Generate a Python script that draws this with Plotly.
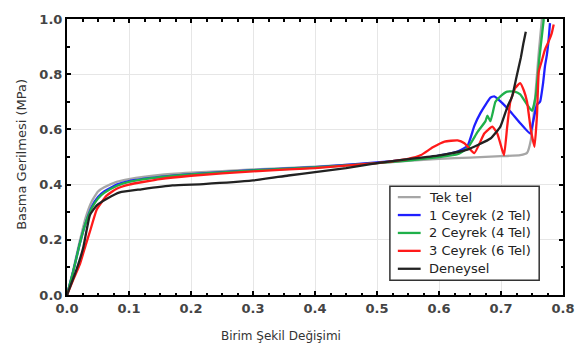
import plotly.graph_objects as go

# --- data ---
tek_x = [0, 0.01, 0.02, 0.03, 0.04, 0.05, 0.06, 0.08, 0.1, 0.15, 0.2, 0.3, 0.4, 0.5, 0.55, 0.6, 0.65, 0.7, 0.731, 0.742, 0.748, 0.753, 0.757, 0.761, 0.766]
tek_y = [0, 0.09, 0.19, 0.28, 0.34, 0.375, 0.39, 0.41, 0.42, 0.435, 0.443, 0.455, 0.465, 0.478, 0.486, 0.493, 0.498, 0.503, 0.507, 0.515, 0.56, 0.66, 0.77, 0.88, 1.0]

c1_x = [0, 0.01, 0.02, 0.03, 0.04, 0.05, 0.06, 0.08, 0.1, 0.15, 0.2, 0.3, 0.4, 0.5, 0.55, 0.6, 0.63, 0.646, 0.657, 0.667, 0.683, 0.689, 0.7, 0.715, 0.73, 0.747, 0.752, 0.758, 0.763, 0.768, 0.771, 0.774, 0.777, 0.779]
c1_y = [0, 0.085, 0.18, 0.26, 0.32, 0.355, 0.375, 0.4, 0.413, 0.428, 0.438, 0.452, 0.463, 0.48, 0.49, 0.505, 0.52, 0.54, 0.613, 0.66, 0.715, 0.72, 0.70, 0.665, 0.625, 0.585, 0.63, 0.69, 0.70, 0.77, 0.83, 0.87, 0.93, 0.985]

c2_x = [0, 0.01, 0.02, 0.03, 0.04, 0.05, 0.06, 0.08, 0.1, 0.15, 0.2, 0.3, 0.4, 0.5, 0.55, 0.6, 0.63, 0.646, 0.662, 0.675, 0.678, 0.683, 0.691, 0.699, 0.71, 0.722, 0.731, 0.742, 0.75, 0.756, 0.762, 0.766, 0.769]
c2_y = [0, 0.085, 0.18, 0.26, 0.315, 0.35, 0.37, 0.395, 0.41, 0.427, 0.437, 0.451, 0.462, 0.478, 0.487, 0.5, 0.51, 0.532, 0.59, 0.63, 0.65, 0.63, 0.70, 0.72, 0.737, 0.737, 0.727, 0.69, 0.667, 0.72, 0.86, 0.94, 1.0]

c3_x = [0, 0.01, 0.021, 0.03, 0.037, 0.048, 0.064, 0.08, 0.1, 0.15, 0.2, 0.3, 0.4, 0.5, 0.55, 0.571, 0.59, 0.609, 0.63, 0.641, 0.657, 0.673, 0.686, 0.694, 0.702, 0.705, 0.71, 0.715, 0.723, 0.731, 0.737, 0.742, 0.748, 0.754, 0.758, 0.761, 0.766, 0.771, 0.777, 0.782, 0.785]
c3_y = [0, 0.055, 0.113, 0.18, 0.23, 0.31, 0.36, 0.385, 0.4, 0.42, 0.432, 0.448, 0.46, 0.478, 0.493, 0.507, 0.535, 0.556, 0.56, 0.55, 0.514, 0.585, 0.61, 0.585, 0.525, 0.507, 0.61, 0.70, 0.75, 0.768, 0.74, 0.70, 0.6, 0.537, 0.65, 0.81, 0.85, 0.89, 0.92, 0.95, 0.98]

den_x = [0, 0.003, 0.015, 0.026, 0.037, 0.048, 0.065, 0.085, 0.12, 0.17, 0.22, 0.3, 0.357, 0.4, 0.45, 0.5, 0.55, 0.598, 0.646, 0.683, 0.699, 0.71, 0.718, 0.725, 0.732, 0.736, 0.74]
den_y = [0, 0.018, 0.09, 0.17, 0.29, 0.325, 0.35, 0.372, 0.383, 0.397, 0.402, 0.415, 0.433, 0.445, 0.46, 0.478, 0.492, 0.505, 0.527, 0.567, 0.61, 0.68, 0.72, 0.79, 0.86, 0.91, 0.954]

names = ["Tek tel", "1 Ceyrek (2 Tel)", "2 Ceyrek (4 Tel)", "3 Ceyrek (6 Tel)", "Deneysel"]
colors = ["#a6a6a6", "#1f1fff", "#1fb04a", "#ff1a1a", "#222222"]

x_ticks = [0.0, 0.1, 0.2, 0.3, 0.4, 0.5, 0.6, 0.7, 0.8]
y_ticks = [0.0, 0.2, 0.4, 0.6, 0.8, 1.0]

x_title = "Birim Şekil Değişimi"
y_title = "Basma Gerilmesi (MPa)"

series = [(tek_x, tek_y), (c1_x, c1_y), (c2_x, c2_y), (c3_x, c3_y), (den_x, den_y)]

FONT = "DejaVu Sans"

fig = go.Figure()
for (xs, ys), n, c in zip(series, names, colors):
    fig.add_trace(go.Scatter(x=xs, y=ys, mode="lines", name=n, showlegend=False,
                             line=dict(color=c, width=2.3, shape="spline", smoothing=0.4)))

axis_common = dict(
    showline=True, linecolor="black", linewidth=2, mirror="ticks",
    ticks="inside", ticklen=4, tickcolor="black", tickwidth=1.5,
    showgrid=True, gridcolor="#e6e6e6", gridwidth=1, zeroline=False,
    tickfont=dict(family=FONT, size=13, color="#444444", weight="bold"),
)

fig.update_xaxes(range=[0, 0.8], tickvals=x_ticks, ticktext=[f"{v:.1f}" for v in x_ticks],
                 minor=dict(dtick=0.025, ticks="inside", ticklen=2.5, tickcolor="black", showgrid=False),
                 **axis_common)
fig.update_yaxes(range=[0, 1.0], tickvals=y_ticks, ticktext=[f"{v:.1f}" for v in y_ticks],
                 minor=dict(dtick=0.1, ticks="inside", ticklen=2.5, tickcolor="black", showgrid=False),
                 **axis_common)

# axis titles
fig.add_annotation(text=x_title, xref="paper", yref="paper", x=0.431, y=-0.149,
                   xanchor="center", yanchor="middle", showarrow=False,
                   font=dict(family=FONT, size=12, color="#333333"))
fig.add_annotation(text=y_title, xref="paper", yref="paper", x=-0.091, y=0.511,
                   xanchor="center", yanchor="middle", showarrow=False, textangle=-90,
                   font=dict(family=FONT, size=13, color="#333333"))

# legend box (drawn manually to match the compact spacing)
lx0, lx1, ly0, ly1 = 0.651, 0.952, 0.053, 0.394
fig.add_shape(type="rect", xref="paper", yref="paper", x0=lx0, x1=lx1, y0=ly0, y1=ly1,
              line=dict(color="#333333", width=1.5), fillcolor="white", layer="above")
row_px = [195, 213.3, 231.6, 249.9, 268.2]
for n, c, py in zip(names, colors, row_px):
    yy = (295 - py) / 282
    fig.add_shape(type="line", xref="paper", yref="paper", x0=0.667, x1=0.713, y0=yy, y1=yy,
                  line=dict(color=c, width=2.3), layer="above")
    fig.add_annotation(text=n, xref="paper", yref="paper", x=0.725, y=yy,
                       xanchor="left", yanchor="middle", showarrow=False,
                       font=dict(family=FONT, size=13, color="#222222"))

fig.update_layout(
    width=587, height=356,
    margin=dict(l=67, r=21, t=13, b=61),
    plot_bgcolor="white", paper_bgcolor="white",
    showlegend=False,
)

fig.write_html("out.html")
